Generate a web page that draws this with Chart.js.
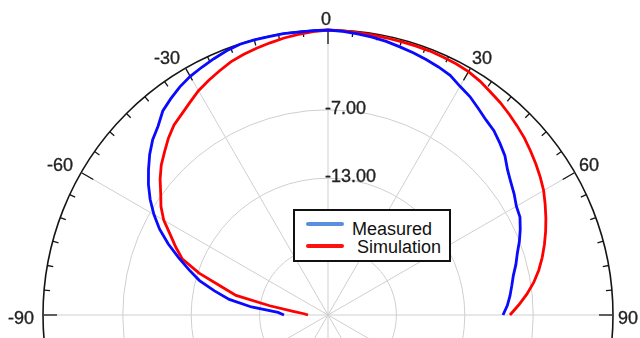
<!DOCTYPE html>
<html>
<head>
<meta charset="utf-8">
<script src="https://cdn.jsdelivr.net/npm/chart.js@4.4.1/dist/chart.umd.min.js"></script>
<style>
  html, body { margin: 0; padding: 0; width: 640px; height: 338px; overflow: hidden; background: #fff; }
  #wrap { position: absolute; left: -2px; top: -15px; width: 660px; height: 660px; }
  #legend {
    position: absolute; left: 293px; top: 209px; width: 158px; height: 53px;
    box-sizing: border-box; border: 2px solid #111; background: #fff;
    font-family: "Liberation Sans", Arial, sans-serif; font-size: 18px; color: #111;
  }
  .swatch { position: absolute; left: 11px; width: 38px; height: 4px; border-radius: 2px; }
  .name { position: absolute; left: 57px; height: 18px; line-height: 18px; white-space: pre; }
</style>
</head>
<body>
<div id="wrap"><canvas id="c" width="660" height="660"></canvas></div>
<div id="legend"></div>
<script>
// Radiation pattern, angle in degrees (0 = broadside), level in dB
const angleStep = 3;
const sampleAngles = [
  -90, -87, -84, -81, -78, -75, -72, -69, -66, -63,
  -60, -57, -54, -51, -48, -45, -42, -39, -36, -33,
  -30, -27, -24, -21, -18, -15, -12, -9, -6, -3,
  0, 3, 6, 9, 12, 15, 18, 21, 24, 27,
  30, 33, 36, 39, 42, 45, 48, 51, 54, 57,
  60, 63, 66, 69, 72, 75, 78, 81, 84, 87,
  90
];
const measured = [
  -21.14, -20.61, -18.25, -16.23, -14.82, -13.33, -12.19, -10.96, -9.65, -8.42,
  -7.37, -6.40, -5.53, -4.74, -3.95, -3.25, -2.72, -1.97, -1.54, -1.14,
  -0.83, -0.61, -0.39, -0.18, -0.03, -0.02, -0.04, -0.01, -0.05, -0.02,
  0.00, -0.09, -0.20, -0.32, -0.46, -0.65, -0.82, -0.99, -1.18, -1.40,
  -1.84, -2.15, -2.59, -2.98, -3.25, -3.68, -4.12, -4.74, -5.18, -5.53,
  -5.92, -6.10, -6.54, -7.02, -7.54, -7.94, -8.38, -8.68, -8.95, -9.25,
  -9.65
];
const simulation = [
  -23.25, -22.89, -21.93, -19.82, -16.75, -15.26, -13.11, -11.32, -10.39, -9.47,
  -8.36, -7.53, -6.86, -6.05, -5.32, -4.73, -4.09, -3.54, -3.19, -2.76,
  -2.28, -1.92, -1.57, -1.21, -0.98, -0.78, -0.59, -0.40, -0.25, -0.11,
  0.00, -0.04, -0.09, -0.13, -0.16, -0.18, -0.18, -0.18, -0.22, -0.26,
  -0.35, -0.53, -0.79, -1.01, -1.27, -1.54, -1.81, -2.14, -2.46, -2.80,
  -3.16, -3.62, -4.08, -4.55, -5.04, -5.55, -6.10, -6.73, -7.46, -8.25,
  -9.04
];
const ringValues = [-25, -19, -13, -7, 0];
const ringLabels = [-19, -13, -7];
const angleLabels = [-90, -60, -30, 0, 30, 60, 90];
const seriesNames = ['Measured', ' Simulation'];
const seriesColors = ['#0a0aff', '#ff0000'];
const legendColors = ['#5a8ede', '#ff1010'];

// the radial scale spreads its categories over a whole turn, so the
// category list continues past +90 around the unused lower half
const circleLabels = sampleAngles.slice();
for (let a = 90 + angleStep; a < 270; a += angleStep) circleLabels.push(a);

const indexOf = a => (a + 90) / angleStep;
const FONT = '18px "Liberation Sans", Arial, sans-serif';
const TEXT = '#222';
const GRID = '#cfcfcf';
const RIM = '#151515';

const polarDecor = {
  id: 'polarDecor',
  beforeDatasetsDraw(chart) {
    const s = chart.scales.r;
    const ctx = chart.ctx;
    ctx.save();
    // tick marks on the rim every 5 degrees, longer every 30
    ctx.strokeStyle = RIM;
    ctx.lineWidth = 1.3;
    for (let a = -180; a < 180; a += 5) {
      const len = a % 30 === 0 ? 14 : 6;
      const p1 = s.getPointPosition(indexOf(a), s.drawingArea);
      const p2 = s.getPointPosition(indexOf(a), s.drawingArea - len);
      ctx.beginPath();
      ctx.moveTo(p1.x, p1.y);
      ctx.lineTo(p2.x, p2.y);
      ctx.stroke();
    }
    ctx.fillStyle = TEXT;
    ctx.strokeStyle = TEXT;
    ctx.lineWidth = 0.35;
    ctx.font = FONT;
    ctx.textBaseline = 'alphabetic';
    const label = (txt, x, y) => { ctx.fillText(txt, x, y); ctx.strokeText(txt, x, y); };
    // level labels along the 0 degree spoke
    ctx.textAlign = 'left';
    ringLabels.forEach(v => {
      const d = s.getDistanceFromCenterForValue(v);
      label(v.toFixed(2), s.xCenter - 3, s.yCenter - d + 4);
    });
    // angle labels outside the rim
    angleLabels.forEach(a => {
      const p = s.getPointPosition(indexOf(a), s.drawingArea + 7);
      ctx.textAlign = a < 0 ? 'right' : (a > 0 ? 'left' : 'center');
      const dy = Math.abs(a) === 90 ? 9 : 2;
      label(String(a), p.x - 2, p.y + dy);
    });
    ctx.restore();
  }
};

const chart = new Chart(document.getElementById('c'), {
  type: 'radar',
  data: {
    labels: circleLabels,
    datasets: [
      { label: seriesNames[0], data: measured, borderColor: seriesColors[0], borderWidth: 2.8 },
      { label: seriesNames[1], data: simulation, borderColor: seriesColors[1], borderWidth: 2.8 }
    ]
  },
  options: {
    responsive: false,
    animation: false,
    devicePixelRatio: 1,
    layout: { padding: 45 },
    elements: {
      point: { radius: 0, hitRadius: 0 },
      line: { fill: false, tension: 0 }
    },
    plugins: { legend: { display: false }, tooltip: { enabled: false } },
    scales: {
      r: {
        min: -25,
        max: 0,
        startAngle: -90,
        afterBuildTicks: axis => { axis.ticks = ringValues.map(v => ({ value: v })); },
        ticks: { display: false },
        pointLabels: { display: false },
        grid: {
          circular: true,
          color: c => (c.tick && c.tick.value === 0 ? RIM : GRID),
          lineWidth: c => (c.tick && c.tick.value === -25 ? 0 : (c.tick && c.tick.value === 0 ? 1.6 : 1))
        },
        angleLines: {
          color: GRID,
          lineWidth: c => (c.index % (30 / angleStep) === 0 ? 1 : 0)
        }
      }
    }
  },
  plugins: [polarDecor]
});

// legend box built from the datasets
const legend = document.getElementById('legend');
const rows = [{ line: 11, text: 9 }, { line: 32.5, text: 27 }];
chart.data.datasets.forEach((ds, i) => {
  const sw = document.createElement('div');
  sw.className = 'swatch';
  sw.style.top = rows[i].line + 'px';
  sw.style.background = legendColors[i];
  legend.appendChild(sw);
  const t = document.createElement('div');
  t.className = 'name';
  t.style.top = rows[i].text + 'px';
  t.textContent = ds.label;
  legend.appendChild(t);
});
</script>
</body>
</html>
